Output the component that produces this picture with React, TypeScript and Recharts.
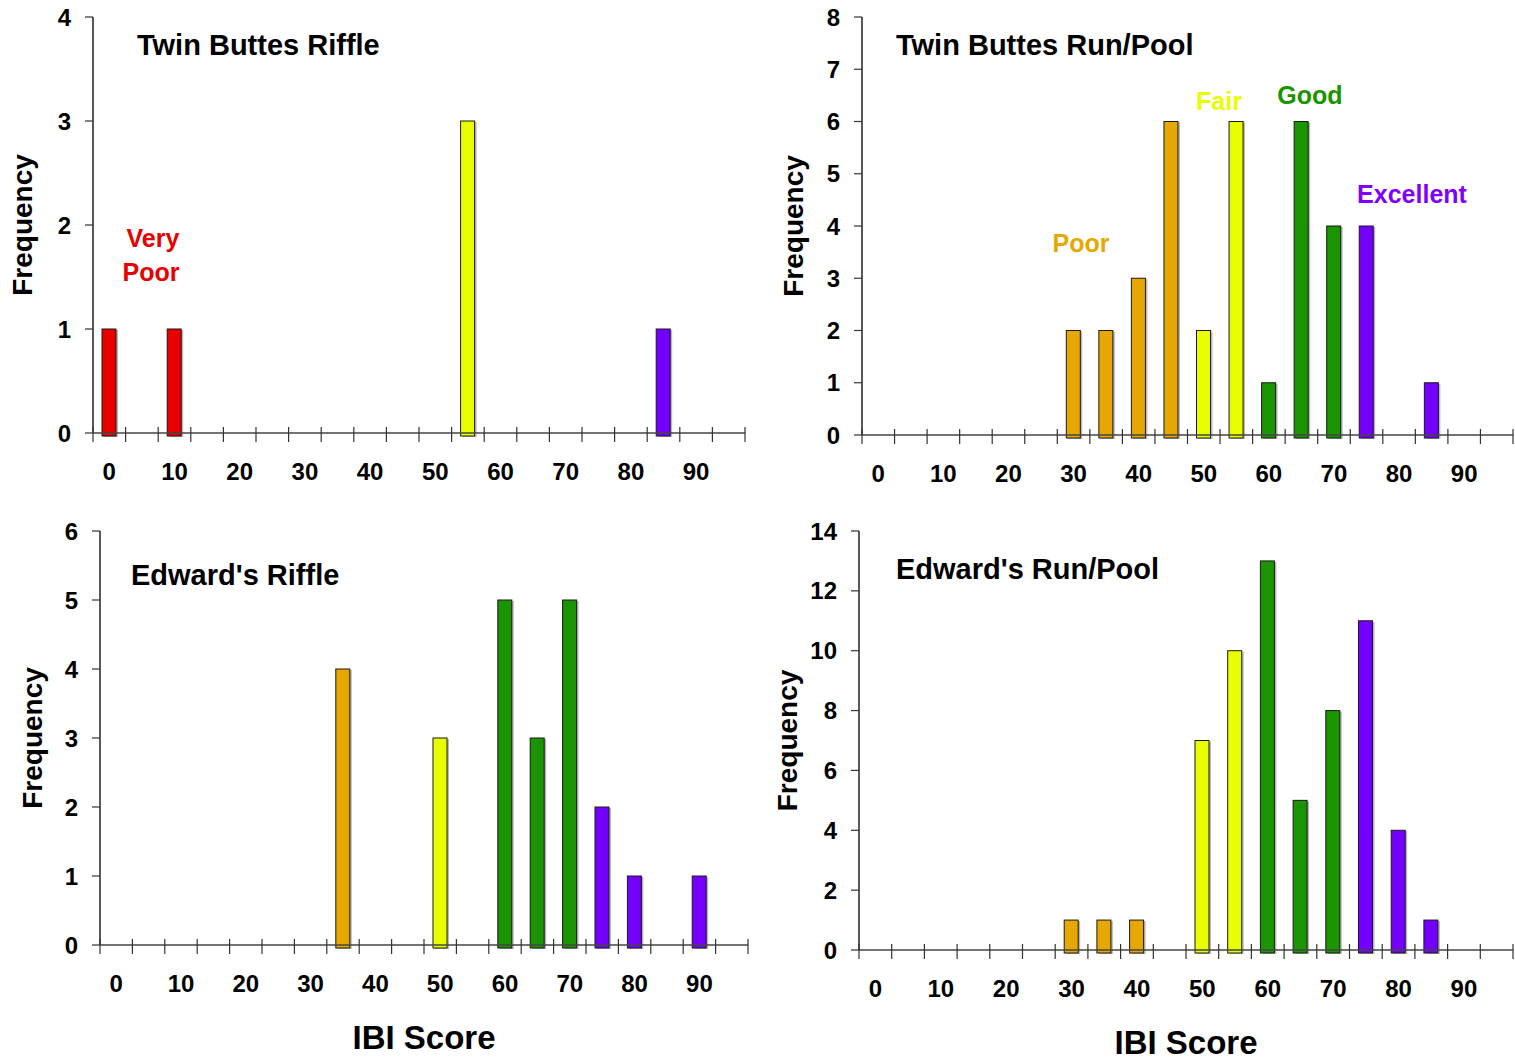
import { Bar, BarChart, XAxis, YAxis } from "recharts";

// IBI score bins (5-point classes)
const scores = [0, 5, 10, 15, 20, 25, 30, 35, 40, 45, 50, 55, 60, 65, 70, 75, 80, 85, 90, 95];
const scoreClass = [
  "veryPoor", "veryPoor", "veryPoor", "veryPoor", "veryPoor", "veryPoor",
  "poor", "poor", "poor", "poor",
  "fair", "fair",
  "good", "good", "good",
  "excellent", "excellent", "excellent", "excellent", "excellent",
];
const classColors: Record<string, string> = {
  veryPoor: "#e60000",
  poor: "#e6a800",
  fair: "#e8ff00",
  good: "#1a9400",
  excellent: "#7300ff",
};

const twinButtesRiffle = [1, 0, 1, 0, 0, 0, 0, 0, 0, 0, 0, 3, 0, 0, 0, 0, 0, 1, 0, 0];
const twinButtesRunPool = [0, 0, 0, 0, 0, 0, 2, 2, 3, 6, 2, 6, 1, 6, 4, 4, 0, 1, 0, 0];
const edwardsRiffle = [0, 0, 0, 0, 0, 0, 0, 4, 0, 0, 3, 0, 5, 3, 5, 2, 1, 0, 1, 0];
const edwardsRunPool = [0, 0, 0, 0, 0, 0, 1, 1, 1, 0, 7, 10, 13, 5, 8, 11, 4, 1, 0, 0];

const FONT = '"Liberation Sans", Arial, Helvetica, sans-serif';

type Row = { score: number; count: number; color: string };

function toRows(values: number[]): Row[] {
  return scores.map((score, i) => ({
    score,
    count: values[i],
    color: classColors[scoreClass[i]],
  }));
}

function ShadowBar(props: any) {
  const { x, y, width, height, payload } = props;
  if (!height || height <= 0) return null;
  return (
    <g>
      <rect x={x + 2} y={y + 1} width={width} height={height + 3} fill="#b8b8b8" />
      <rect
        x={x}
        y={y}
        width={width}
        height={height + 3}
        fill={payload.color}
        stroke="#1a1a1a"
        strokeWidth={1}
      />
    </g>
  );
}

function ScoreTick(props: any) {
  const { x, y, payload, index, half } = props;
  const v = payload.value as number;
  const last = index === scores.length - 1;
  return (
    <g>
      <line x1={x - half} x2={x - half} y1={y - 6} y2={y + 9} stroke="#333" strokeWidth={1.2} />
      {last ? (
        <line x1={x + half} x2={x + half} y1={y - 6} y2={y + 9} stroke="#333" strokeWidth={1.2} />
      ) : null}
      {v % 10 === 0 ? (
        <text
          x={x}
          y={y + 47}
          textAnchor="middle"
          fill="#000"
          fontSize={24}
          fontWeight={700}
          fontFamily={FONT}
        >
          {v}
        </text>
      ) : null}
    </g>
  );
}

type PanelProps = {
  values: number[];
  yMax: number;
  yTicks: number[];
  left: number;
  top: number;
  width: number;
  height: number;
  margin: { top: number; right: number; left: number; bottom: number };
  yAxisWidth: number;
  xAxisHeight: number;
  freqOffset: number;
  ibiOffset?: number;
};

function Panel({
  values,
  yMax,
  yTicks,
  left,
  top,
  width,
  height,
  margin,
  yAxisWidth,
  xAxisHeight,
  freqOffset,
  ibiOffset,
}: PanelProps) {
  const plotW = width - margin.left - margin.right - yAxisWidth;
  const half = plotW / scores.length / 2;
  return (
    <div style={{ position: "absolute", left, top, width, height }}>
      <BarChart width={width} height={height} data={toRows(values)} margin={margin}>
        <XAxis
          dataKey="score"
          interval={0}
          height={xAxisHeight}
          tickLine={false}
          tickSize={0}
          tickMargin={0}
          axisLine={{ stroke: "#444", strokeWidth: 1.5 }}
          tick={(p: any) => <ScoreTick {...p} half={half} />}
          label={
            ibiOffset !== undefined
              ? {
                  value: "IBI Score",
                  position: "insideBottom",
                  offset: ibiOffset,
                  fill: "#000",
                  fontSize: 33,
                  fontWeight: 700,
                  fontFamily: FONT,
                }
              : undefined
          }
        />
        <YAxis
          width={yAxisWidth}
          domain={[0, yMax]}
          ticks={yTicks}
          interval={0}
          allowDecimals={false}
          tickSize={8}
          tickMargin={14}
          tickLine={{ stroke: "#333", strokeWidth: 1.2 }}
          axisLine={{ stroke: "#222", strokeWidth: 1.5 }}
          tick={{ fill: "#000", fontSize: 24, fontWeight: 700, fontFamily: FONT }}
          label={{
            value: "Frequency",
            angle: -90,
            position: "insideLeft",
            offset: freqOffset,
            fill: "#000",
            fontSize: 28,
            fontWeight: 700,
            fontFamily: FONT,
            style: { textAnchor: "middle" },
          }}
        />
        <Bar dataKey="count" barSize={14} isAnimationActive={false} shape={ShadowBar} />
      </BarChart>
    </div>
  );
}

const titles = [
  { text: "Twin Buttes Riffle", x: 137, y: 55 },
  { text: "Twin Buttes Run/Pool", x: 896, y: 55 },
  { text: "Edward's Riffle", x: 131, y: 585 },
  { text: "Edward's Run/Pool", x: 896, y: 579 },
];

const classLabels = [
  { text: "Very", x: 153, y: 247, color: classColors.veryPoor },
  { text: "Poor", x: 151, y: 281, color: classColors.veryPoor },
  { text: "Poor", x: 1081, y: 252, color: classColors.poor },
  { text: "Fair", x: 1219, y: 110, color: classColors.fair },
  { text: "Good", x: 1310, y: 104, color: classColors.good },
  { text: "Excellent", x: 1412, y: 203, color: "#7f00ff" },
];

export default function App() {
  return (
    <div
      style={{
        position: "absolute",
        left: 0,
        top: 0,
        width: 1515,
        height: 1061,
        background: "#fff",
        fontFamily: FONT,
      }}
    >
      <Panel
        values={twinButtesRiffle}
        yMax={4}
        yTicks={[0, 1, 2, 3, 4]}
        left={0}
        top={0}
        width={760}
        height={500}
        margin={{ top: 17, right: 15, left: 0, bottom: 7 }}
        yAxisWidth={93}
        xAxisHeight={60}
        freqOffset={22}
      />
      <Panel
        values={twinButtesRunPool}
        yMax={8}
        yTicks={[0, 1, 2, 3, 4, 5, 6, 7, 8]}
        left={757}
        top={0}
        width={758}
        height={500}
        margin={{ top: 17, right: 2, left: 0, bottom: 5 }}
        yAxisWidth={105}
        xAxisHeight={60}
        freqOffset={36}
      />
      <Panel
        values={edwardsRiffle}
        yMax={6}
        yTicks={[0, 1, 2, 3, 4, 5, 6]}
        left={0}
        top={500}
        width={760}
        height={561}
        margin={{ top: 31, right: 12, left: 0, bottom: 0 }}
        yAxisWidth={100}
        xAxisHeight={116}
        freqOffset={32}
        ibiOffset={12}
      />
      <Panel
        values={edwardsRunPool}
        yMax={14}
        yTicks={[0, 2, 4, 6, 8, 10, 12, 14]}
        left={757}
        top={500}
        width={758}
        height={561}
        margin={{ top: 31, right: 2, left: 0, bottom: 0 }}
        yAxisWidth={102}
        xAxisHeight={111}
        freqOffset={30}
        ibiOffset={7}
      />
      <svg
        width={1515}
        height={1061}
        style={{ position: "absolute", left: 0, top: 0, pointerEvents: "none" }}
      >
        {titles.map((t) => (
          <text
            key={t.text}
            x={t.x}
            y={t.y}
            fontSize={29}
            fontWeight={700}
            fontFamily={FONT}
            fill="#000"
          >
            {t.text}
          </text>
        ))}
        {classLabels.map((c, i) => (
          <text
            key={i}
            x={c.x}
            y={c.y}
            textAnchor="middle"
            fontSize={25}
            fontWeight={700}
            fontFamily={FONT}
            fill={c.color}
          >
            {c.text}
          </text>
        ))}
      </svg>
    </div>
  );
}
